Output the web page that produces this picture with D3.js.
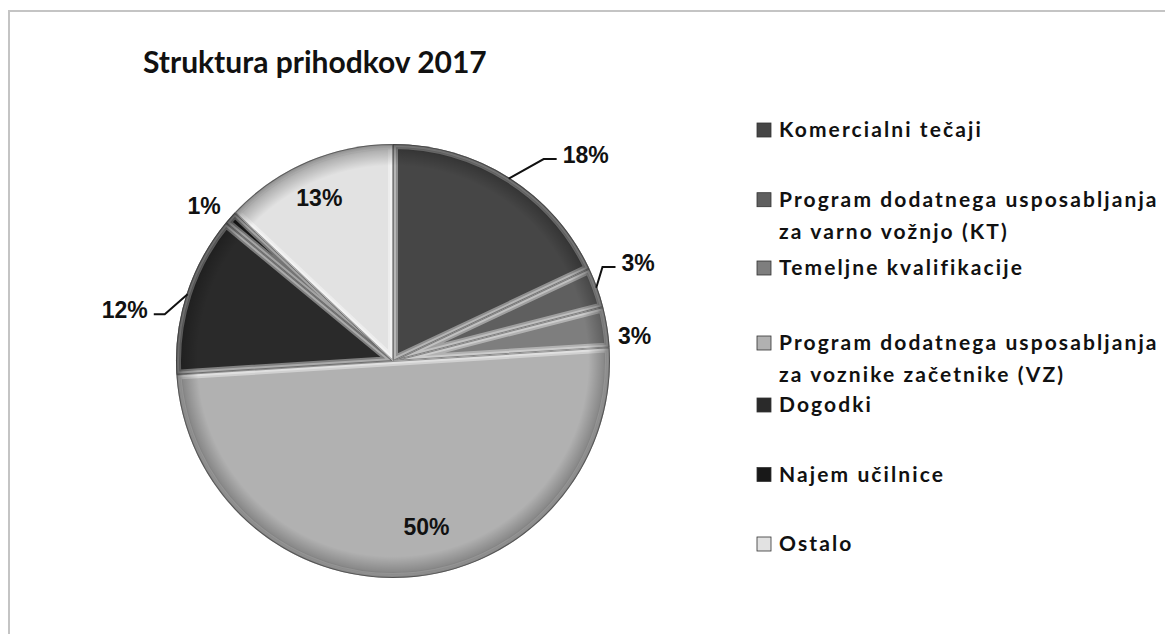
<!DOCTYPE html>
<html>
<head>
<meta charset="utf-8">
<script src="https://cdn.jsdelivr.net/npm/d3@7"></script>
<style>
  body { margin: 0; background: #fff; }
  svg { display: block; }
</style>
</head>
<body>
<svg id="svg"></svg>
<script>
'use strict';

// ================================= data ======================================
var categories = [
    "Komercialni tečaji",
    "Program dodatnega usposabljanja za varno vožnjo (KT)",
    "Temeljne kvalifikacije",
    "Program dodatnega usposabljanja za voznike začetnike (VZ)",
    "Dogodki",
    "Najem učilnice",
    "Ostalo"
];
var legendLines = [
    ["Komercialni tečaji"],
    ["Program dodatnega usposabljanja", "za varno vožnjo (KT)"],
    ["Temeljne kvalifikacije"],
    ["Program dodatnega usposabljanja", "za voznike začetnike (VZ)"],
    ["Dogodki"],
    ["Najem učilnice"],
    ["Ostalo"]
];
var values = [18, 3, 3, 50, 12, 1, 13];
var sliceColors = ["#464646", "#5f5f5f", "#7e7e7e", "#b1b1b1", "#2a2a2a", "#181818", "#e2e2e2"];
var title = "Struktura prihodkov 2017";

// ================================= layout ======================================
var width = 1165;
var height = 634;
var cx = 393, cy = 361, R = 217;

// where each percentage label sits: [angle in degrees from 12 o'clock, distance from centre]
var labelPolar = [[43.1, 282], [68.2, 264], [84.1, 243], [168.6, 169], [280.7, 273], [309.3, 244], [335.7, 179]];
// which labels get a leader line, and on which side of the label it ends
var leaderSide = [-1, -1, 0, 0, 1, 0, 0];
var legendY = [137, 206.7, 275, 350, 412, 481.5, 551];

var svg = d3.select("#svg")
    .attr("width", width)
    .attr("height", height);

var defs = svg.append("defs");

// chart frame
svg.append("rect")
    .attr("x", 9).attr("y", 11)
    .attr("width", 1300).attr("height", 800)
    .attr("fill", "none")
    .attr("stroke", "#c4c4c4")
    .attr("stroke-width", 2);

svg.append("text")
    .attr("x", 143).attr("y", 73)
    .attr("font-family", "Lato, 'Open Sans', sans-serif")
    .attr("font-weight", 700)
    .attr("font-size", 30)
    .attr("fill", "#111")
    .text(title);

// ================================= pie ======================================
var pie = d3.pie().sort(null).value(d => d);
var arcs = pie(values);
var arc = d3.arc().innerRadius(0).outerRadius(R);
var edgeArc = d3.arc().innerRadius(R - 1).outerRadius(R - 1);

var g = svg.append("g").attr("transform", `translate(${cx},${cy})`);

arcs.forEach((a, i) => {
    defs.append("clipPath").attr("id", "clip" + i)
        .append("path").attr("d", arc(a));
});

var slices = g.selectAll("g.slice")
    .data(arcs)
    .join("g")
    .attr("class", "slice");

slices.append("path")
    .attr("d", arc)
    .attr("fill", (d, i) => sliceColors[i]);

// bevel: light band just inside every edge of the slice
slices.append("path")
    .attr("d", arc)
    .attr("clip-path", (d, i) => `url(#clip${i})`)
    .attr("fill", "none")
    .attr("stroke", "#fff")
    .attr("stroke-opacity", 0.4)
    .attr("stroke-width", 10);
slices.append("path")
    .attr("d", arc)
    .attr("clip-path", (d, i) => `url(#clip${i})`)
    .attr("fill", "none")
    .attr("stroke", "#fff")
    .attr("stroke-opacity", 0.35)
    .attr("stroke-width", 6);
slices.append("path")
    .attr("d", arc)
    .attr("clip-path", (d, i) => `url(#clip${i})`)
    .attr("fill", "none")
    .attr("stroke", "#000")
    .attr("stroke-opacity", 0.35)
    .attr("stroke-width", 2);

// darker rim round the outside
var rim = defs.append("radialGradient").attr("id", "rim")
    .attr("cx", 0.5).attr("cy", 0.5).attr("r", 0.5);
rim.append("stop").attr("offset", "0.90").attr("stop-color", "#000").attr("stop-opacity", 0);
rim.append("stop").attr("offset", "0.97").attr("stop-color", "#000").attr("stop-opacity", 0.22);
rim.append("stop").attr("offset", "1").attr("stop-color", "#000").attr("stop-opacity", 0.45);
g.append("circle").attr("r", R).attr("fill", "url(#rim)");

// ================================= labels ======================================
function polar(deg, r) {
    let t = deg * Math.PI / 180;
    return [r * Math.sin(t), -r * Math.cos(t)];
}

var labels = g.selectAll("text.pct")
    .data(arcs)
    .join("text")
    .attr("class", "pct")
    .attr("text-anchor", "middle")
    .attr("font-family", "'Liberation Sans', Arial, sans-serif")
    .attr("font-weight", 700)
    .attr("font-size", 23)
    .attr("fill", "#111")
    .attr("x", (d, i) => polar(labelPolar[i][0], labelPolar[i][1])[0])
    .attr("y", (d, i) => polar(labelPolar[i][0], labelPolar[i][1])[1] + 8)
    .text((d, i) => values[i] + "%");

labels.each(function (d, i) {
    if (!leaderSide[i]) return;
    let bb = this.getBBox();
    let p0 = edgeArc.centroid(d);
    let ly = bb.y + bb.height / 2 + 4;
    let endX = leaderSide[i] < 0 ? bb.x - 6 : bb.x + bb.width + 6;
    let elbowX = endX + (leaderSide[i] < 0 ? -13 : 11);
    g.append("path")
        .attr("d", d3.line()([p0, [elbowX, ly], [endX, ly]]))
        .attr("fill", "none")
        .attr("stroke", "#111")
        .attr("stroke-width", 2);
});

// ================================= legend ======================================
var legend = svg.append("g")
    .selectAll("g")
    .data(categories)
    .join("g");

legend.append("rect")
    .attr("x", 757)
    .attr("y", (d, i) => legendY[i] - 14)
    .attr("width", 14)
    .attr("height", 14)
    .attr("fill", (d, i) => sliceColors[i])
    .attr("stroke", "#333")
    .attr("stroke-width", 0.8);

legend.append("text")
    .attr("font-family", "Lato, 'Open Sans', sans-serif")
    .attr("font-weight", 700)
    .attr("font-size", 21)
    .attr("letter-spacing", 2.1)
    .attr("fill", "#111")
    .selectAll("tspan")
    .data((d, i) => legendLines[i].map((line, j) => ({ line, j, i })))
    .join("tspan")
    .attr("x", 779)
    .attr("y", d => legendY[d.i] + d.j * 32)
    .text(d => d.line);
</script>
</body>
</html>
